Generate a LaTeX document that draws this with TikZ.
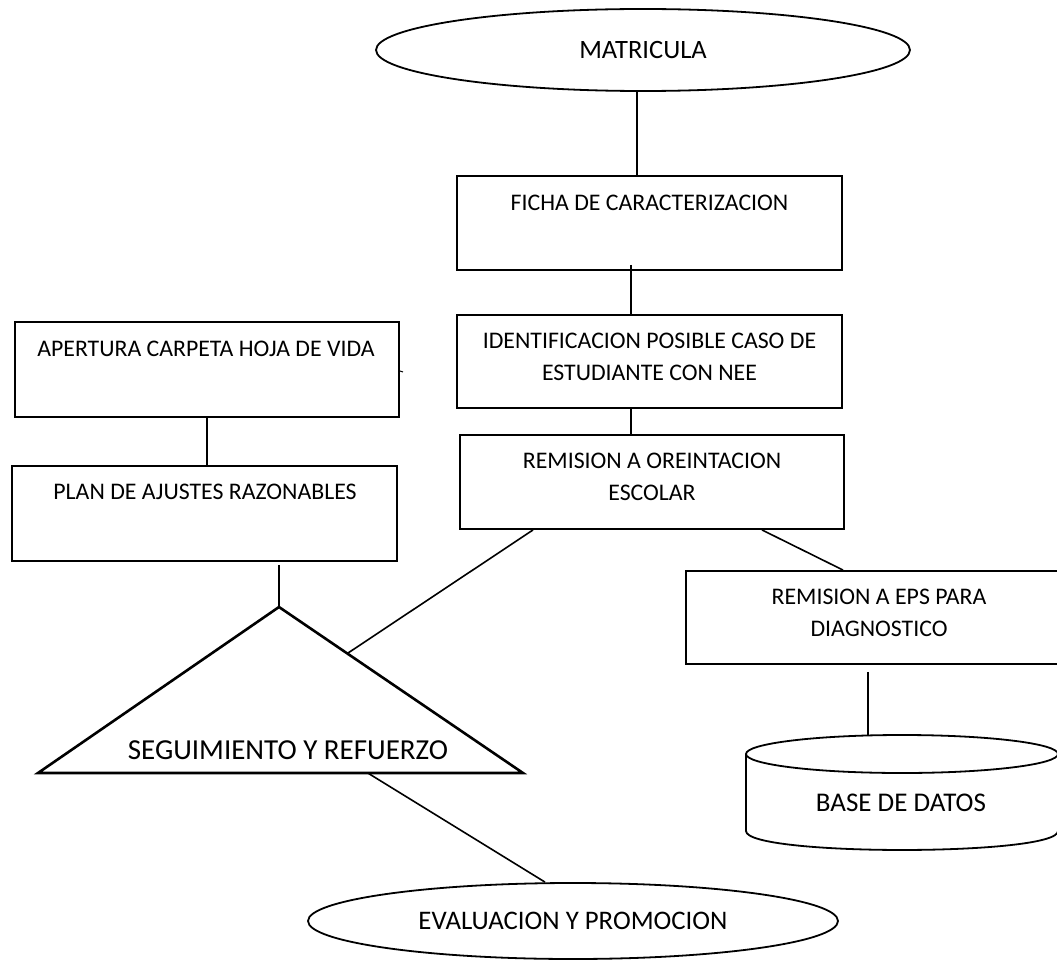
\documentclass[tikz,border=0pt]{standalone}
\usepackage{fontspec}
\setmainfont{Carlito}
\usetikzlibrary{shapes.geometric,calc}
\begin{document}
\begin{tikzpicture}[x=1pt,y=-1pt,
  box/.style={draw, line width=1.9pt, rectangle, inner sep=0pt},
  lbl/.style={inner sep=0pt, align=center, font=\fontsize{23.8}{32}\selectfont},
  ell/.style={draw, ellipse, line width=1.8pt, inner sep=0pt, font=\fontsize{26.5}{30}\selectfont},
  conn/.style={line width=1.6pt},
  tri/.style={line width=2.6pt, line join=miter},
  cyl/.style={line width=1.8pt}]
\path[use as bounding box] (0,0) rectangle (1057,960);
\clip (0,0) rectangle (1057,960);

% ellipses
\node[ell, minimum width=534, minimum height=82] (matricula) at (643,50) {MATRICULA};
\node[ell, minimum width=530, minimum height=76, font=\fontsize{26.8}{30}\selectfont] (evaluacion) at (573,921) {EVALUACION Y PROMOCION};

% boxes
\node[box, minimum width=385, minimum height=94] (ficha) at (649.5,223) {};
\node[box, minimum width=385, minimum height=93] (ident) at (649.5,361.5) {};
\node[box, minimum width=384, minimum height=94] (remision) at (652,482) {};
\node[box, minimum width=384, minimum height=95] (apertura) at (207,369.5) {};
\node[box, minimum width=385, minimum height=95] (plan) at (204.5,513.5) {};
\node[box, minimum width=386, minimum height=93] (eps) at (879,617.5) {};

% box texts
\node[lbl] (fichaT) at (649.5,203) {FICHA DE CARACTERIZACION};
\node[lbl] (identT) at (649.5,357) {IDENTIFICACION POSIBLE CASO DE\\ESTUDIANTE CON NEE};
\node[lbl] (remisionT) at (652,477) {REMISION A OREINTACION\\ESCOLAR};
\node[lbl] (aperturaT) at (206,349) {APERTURA CARPETA HOJA DE VIDA};
\node[lbl] (planT) at (205,492) {PLAN DE AJUSTES RAZONABLES};
\node[lbl] (epsT) at (879,613) {REMISION A EPS PARA\\DIAGNOSTICO};

% triangle
\coordinate (apex) at (279,607);
\coordinate (bl) at (38,773);
\coordinate (br) at (523,773);
\draw[tri] (apex) -- (bl) -- (br) -- cycle;
\node[lbl, font=\fontsize{29}{34}\selectfont] (seguimiento) at (288,750) {SEGUIMIENTO Y REFUERZO};

% cylinder
\coordinate (cylL) at (746,754);
\coordinate (cylR) at (1058,754);
\coordinate (cylLB) at (746,831);
\coordinate (cylRB) at (1058,831);
\coordinate (cyltop) at (868,735.5);
\draw[cyl] (902,754) ellipse [x radius=156, y radius=19];
\draw[cyl] (cylL) -- (cylLB) .. controls (746,856.3) and (1058,856.3) .. (cylRB) -- (cylR);
\node[lbl, font=\fontsize{27}{32}\selectfont] (base) at (901,803) {BASE DE DATOS};

% connectors
\draw[conn] ([xshift=-6pt]matricula.south) -- ([xshift=-12.5pt]ficha.north);
\draw[conn] ([xshift=-18.5pt,yshift=6pt]ficha.south) -- ([xshift=-18.5pt]ident.north);
\draw[conn] ([xshift=-18.5pt]ident.south) -- ([xshift=-21pt]remision.north);
\draw[conn] (apertura.south) -- ([xshift=2.5pt]plan.north);
\draw[conn] ([xshift=74.5pt,yshift=-3pt]plan.south) -- (apex);
\draw[conn] ([xshift=-119pt]remision.south) -- ($(apex)!0.28!(br)$);
\draw[conn] ([xshift=110pt]remision.south) -- ([xshift=-36pt]eps.north);
\draw[conn] ([xshift=-11pt,yshift=-7pt]eps.south) -- (cyltop);
\draw[conn] ($(bl)!0.68!(br)$) -- ([xshift=-28pt]evaluacion.north);
\draw[line width=1pt] ([yshift=-1.5pt]apertura.east) -- ++(3,1);
\end{tikzpicture}
\end{document}
